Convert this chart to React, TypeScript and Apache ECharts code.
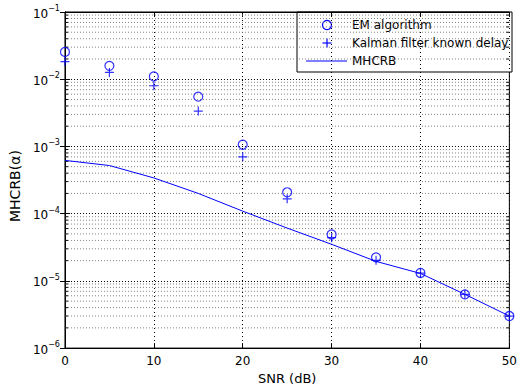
import React, { useEffect, useRef } from "react";
import * as echarts from "echarts";

const snr = [0, 5, 10, 15, 20, 25, 30, 35, 40, 45, 50];
const emAlgorithm = [0.0255, 0.0158, 0.011, 0.0055, 0.00106, 2.08e-4, 4.9e-5, 2.24e-5, 1.31e-5, 6.3e-6, 3.0e-6];
const kalmanKnownDelay = [0.0183, 0.0126, 0.0080, 0.00336, 7.0e-4, 1.66e-4, 4.4e-5, 2.02e-5, 1.3e-5, 6.3e-6, 3.0e-6];
const mhcrb = [6.2e-4, 5.2e-4, 3.4e-4, 2.0e-4, 1.09e-4, 6.1e-5, 3.5e-5, 1.95e-5, 1.29e-5, 6.3e-6, 3.0e-6];
const decadeExponents = [-6, -5, -4, -3, -2];
const minorMultipliers = [2, 3, 4, 5, 6, 7, 8, 9];
const legendLabels = ["EM algorithm", "Kalman filter known delay", "MHCRB"];

const BLUE = "#0000ff";
const FONT = "DejaVu Sans";
const PLUS = "path://M5,0L5,10M0,5L10,5";

export default function App() {
  const ref = useRef<HTMLDivElement>(null);
  useEffect(() => {
    document.body.style.margin = "0";
    const chart = echarts.init(ref.current!, null, { renderer: "svg" });

    const minorValues: number[] = [];
    decadeExponents.forEach((e) => minorMultipliers.forEach((m) => minorValues.push(m * Math.pow(10, e))));

    const yLabel = (v: number) => {
      const e = Math.round(Math.log10(v));
      return `{a|10}{b|${e < 0 ? "\u2212" : ""}${Math.abs(e)}}`;
    };

    const lx = 297, ly = 12, lw = 215, lh = 60;
    const rows = [25, 43, 61];

    chart.setOption({
      animation: false,
      textStyle: { fontFamily: FONT },
      grid: { left: 60, right: 7, top: 12, bottom: 41, show: true, borderColor: "#000", borderWidth: 1, backgroundColor: "#fff" },
      xAxis: [
        {
          type: "value", min: 0, max: 50, interval: 10,
          name: "SNR (dB)", nameLocation: "middle", nameGap: 19,
          nameTextStyle: { fontFamily: FONT, fontSize: 13, color: "#000" },
          axisLine: { lineStyle: { color: "#000" } },
          axisTick: { inside: true, length: 5, lineStyle: { color: "#000" } },
          axisLabel: { fontFamily: FONT, fontSize: 12, color: "#000", margin: 7 },
          splitLine: { show: true, lineStyle: { color: "#000", type: [1, 3], width: 1 } },
        },
        {
          type: "value", min: 0, max: 50, interval: 10, position: "top",
          axisLine: { show: true, lineStyle: { color: "#000" } },
          axisTick: { inside: true, length: 5, lineStyle: { color: "#000" } },
          axisLabel: { show: false }, splitLine: { show: false },
        },
      ],
      yAxis: [
        {
          type: "log", logBase: 10, min: 1e-6, max: 1e-1,
          name: "MHCRB(\u03b1)", nameLocation: "middle", nameGap: 40,
          nameTextStyle: { fontFamily: FONT, fontSize: 14, color: "#000", padding: [0, 12, 0, 0] },
          axisLine: { show: true, lineStyle: { color: "#000" } },
          axisTick: { inside: true, length: 5, lineStyle: { color: "#000" } },
          axisLabel: {
            formatter: yLabel, margin: 5,
            rich: {
              a: { fontFamily: FONT, fontSize: 12, color: "#000", verticalAlign: "bottom" },
              b: { fontFamily: FONT, fontSize: 8, color: "#000", verticalAlign: "bottom", padding: [0, 0, 7, 0] },
            },
          },
          splitLine: { show: true, lineStyle: { color: "#000", type: [1, 2], width: 1 } },
        },
        {
          type: "log", logBase: 10, min: 1e-6, max: 1e-1, position: "right",
          axisLine: { show: true, lineStyle: { color: "#000" } },
          axisTick: { inside: true, length: 5, lineStyle: { color: "#000" } },
          axisLabel: { show: false }, splitLine: { show: false },
        },
      ],
      series: [
        {
          type: "custom", name: "MINOR", silent: true, z: 1,
          coordinateSystem: "cartesian2d",
          data: minorValues.map((v) => [0, v]),
          encode: { x: 0, y: 1 },
          renderItem: (params: any, api: any) => {
            const v = api.value(1);
            const p0 = api.coord([0, v]);
            const p1 = api.coord([50, v]);
            return {
              type: "group",
              children: [
                { type: "line", shape: { x1: p0[0], y1: p0[1], x2: p1[0], y2: p1[1] }, style: { stroke: "#808080", lineWidth: 1, lineDash: [1, 2] } },
                { type: "line", shape: { x1: p0[0], y1: p0[1], x2: p0[0] + 3, y2: p0[1] }, style: { stroke: "#000", lineWidth: 1 } },
                { type: "line", shape: { x1: p1[0] - 3, y1: p1[1], x2: p1[0], y2: p1[1] }, style: { stroke: "#000", lineWidth: 1 } },
              ],
            };
          },
        },
        {
          type: "line", name: legendLabels[2], data: snr.map((x, i) => [x, mhcrb[i]]),
          showSymbol: false, lineStyle: { color: BLUE, width: 1 }, itemStyle: { color: BLUE }, z: 5,
        },
        {
          type: "scatter", name: legendLabels[0], data: snr.map((x, i) => [x, emAlgorithm[i]]),
          symbol: "circle", symbolSize: 9,
          itemStyle: { color: "transparent", borderColor: BLUE, borderWidth: 1.2 }, z: 6,
        },
        {
          type: "scatter", name: legendLabels[1], data: snr.map((x, i) => [x, kalmanKnownDelay[i]]),
          symbol: PLUS, symbolSize: 9,
          itemStyle: { color: "none", borderColor: BLUE, borderWidth: 1.2 }, z: 7,
        },
      ],
      graphic: [
        {
          type: "group", z: 100,
          children: [
            { type: "rect", shape: { x: lx, y: ly, width: lw, height: lh }, style: { fill: "#fff", stroke: "#000", lineWidth: 1 } },
            { type: "circle", shape: { cx: 327, cy: rows[0], r: 4.5 }, style: { fill: "none", stroke: BLUE, lineWidth: 1.2 } },
            { type: "line", shape: { x1: 322.5, y1: rows[1], x2: 331.5, y2: rows[1] }, style: { stroke: BLUE, lineWidth: 1.2 } },
            { type: "line", shape: { x1: 327, y1: rows[1] - 4.5, x2: 327, y2: rows[1] + 4.5 }, style: { stroke: BLUE, lineWidth: 1.2 } },
            { type: "line", shape: { x1: 306, y1: rows[2], x2: 347, y2: rows[2] }, style: { stroke: BLUE, lineWidth: 1 } },
            ...legendLabels.map((t, i) => ({
              type: "text", x: 352, y: rows[i],
              style: { text: t, fontFamily: FONT, fontSize: 12, fill: "#000", verticalAlign: "middle", align: "left" },
            })),
          ],
        },
      ],
    });
    return () => chart.dispose();
  }, []);
  return <div ref={ref} style={{ position: "absolute", left: 0, top: 0, width: 520, height: 390 }} />;
}
